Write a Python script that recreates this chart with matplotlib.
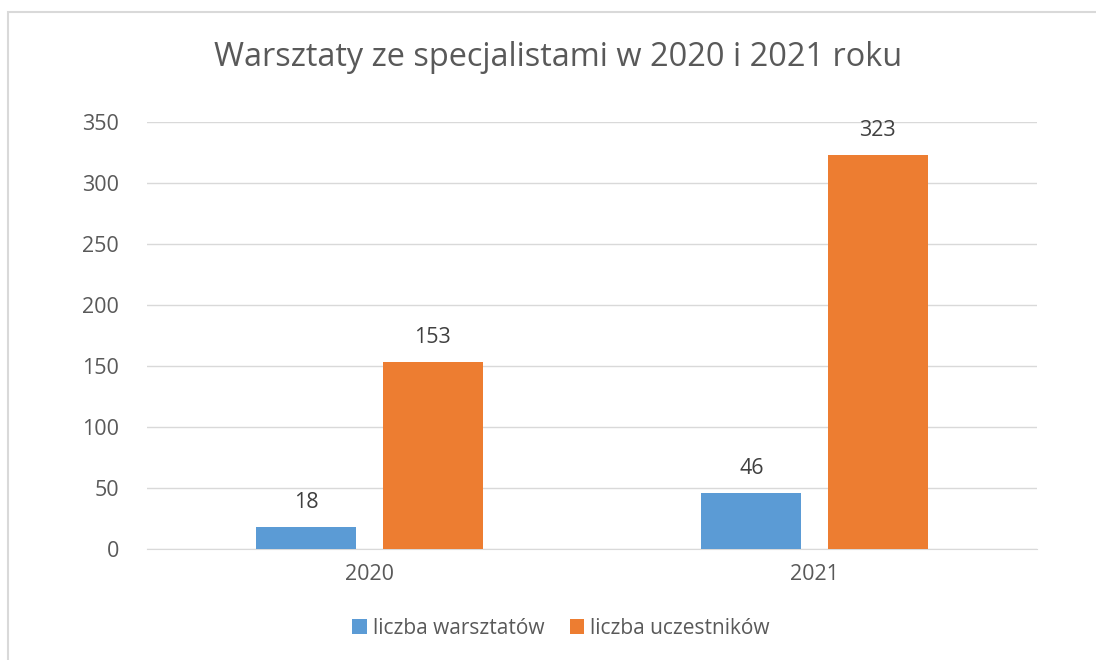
import matplotlib.pyplot as plt
import numpy as np
from matplotlib.patches import Rectangle

plt.rcParams['font.family'] = ['Open Sans', 'DejaVu Sans']

# data
years = ["2020", "2021"]
warsztaty = [18, 46]
uczestnicy = [153, 323]
series_names = ["liczba warsztatów", "liczba uczestników"]

blue = '#5B9BD5'
orange = '#ED7D31'
txt = '#595959'

fig = plt.figure(figsize=(10.96, 6.6), dpi=100)
ax = fig.add_axes([147/1096, 1 - 549/660, 890/1096, 427/660])

x = np.arange(len(years))
w = 0.225
off = 0.142
b1 = ax.bar(x - off, warsztaty, w, color=blue, label=series_names[0], zorder=3)
b2 = ax.bar(x + off, uczestnicy, w, color=orange, label=series_names[1], zorder=3)

# value labels above bars
for bars in (b1, b2):
    for r in bars:
        ax.annotate(str(int(r.get_height())), (r.get_x() + r.get_width() / 2, r.get_height()),
                    xytext=(0, 10), textcoords='offset points', ha='center', va='bottom',
                    fontsize=15.5, color='#404040')

ax.set_xlim(-0.5, 1.5)
ax.set_ylim(0, 350)
ax.set_yticks(range(0, 351, 50))
ax.set_xticks(x)
ax.set_xticklabels(years)
ax.yaxis.grid(True, color='#D9D9D9', linewidth=1, zorder=0)
ax.set_axisbelow(True)
for s in ['top', 'right', 'left']:
    ax.spines[s].set_visible(False)
ax.spines['bottom'].set_color('#D9D9D9')
ax.tick_params(axis='both', length=0, labelsize=15.5, labelcolor=txt)
ax.tick_params(axis='y', pad=20)
ax.tick_params(axis='x', pad=11)

fig.text(558/1096, 1 - 58/660, "Warsztaty ze specjalistami w 2020 i 2021 roku",
         ha='center', va='center', fontsize=23.4, color=txt)

fig.legend(handles=[b1, b2], loc='center', bbox_to_anchor=(561/1096, 1 - 628/660),
           ncol=2, frameon=False, fontsize=15, labelcolor=txt,
           handlelength=0.7, handleheight=0.7, handletextpad=0.3, columnspacing=1.2)

# outer chart border
fig.patches.append(Rectangle((8/1096, -0.1), 1.2, 1.1 - 12/660, transform=fig.transFigure,
                             fill=False, edgecolor='#D9D9D9', linewidth=1.5))

fig.savefig('out.png', dpi=100, facecolor='white')
